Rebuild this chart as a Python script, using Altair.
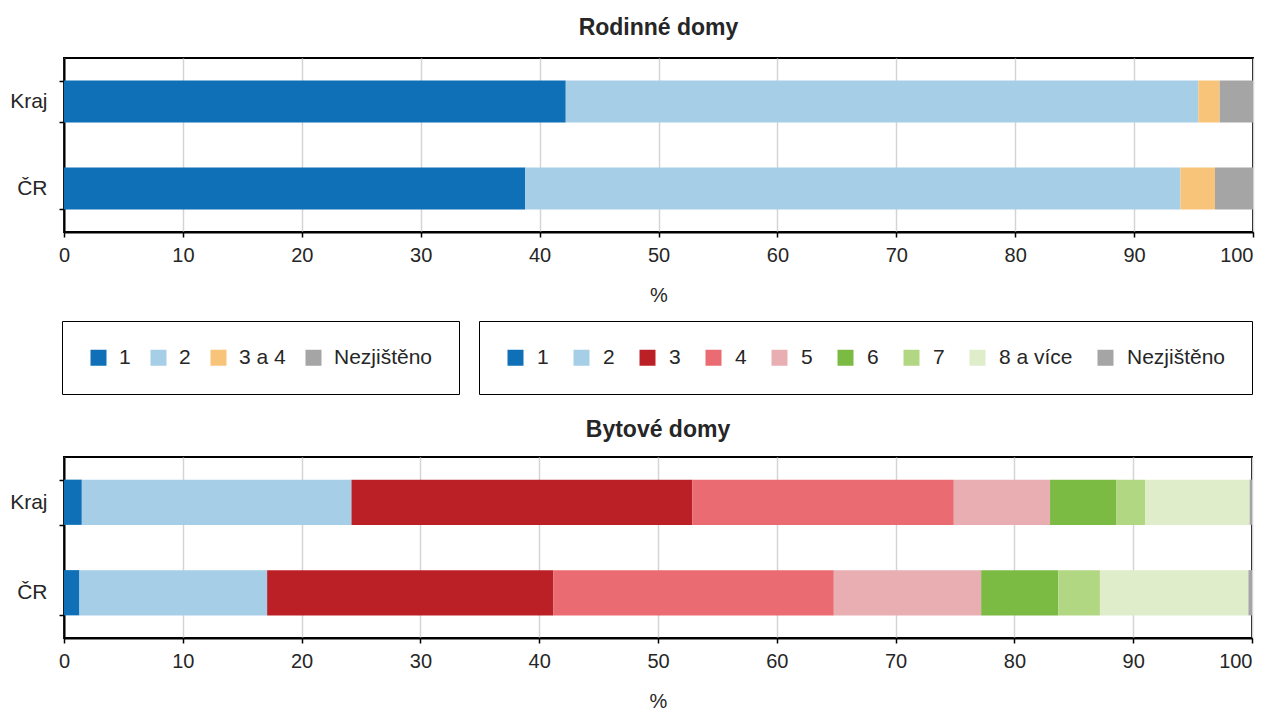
import altair as alt
import pandas as pd

FONT = "Liberation Sans"
TXT = "#262626"

uzemi = ["Kraj", "ČR"]

# Rodinné domy
rd_kategorie = ["1", "2", "3 a 4", "Nezjištěno"]
rd_kraj = [42.2, 53.2, 1.8, 2.8]
rd_cr = [38.8, 55.1, 2.9, 3.2]
rd_barvy = ["#0F70B7", "#A6CEE7", "#F7C47A", "#A5A5A5"]

# Bytové domy
bd_kategorie = ["1", "2", "3", "4", "5", "6", "7", "8 a více", "Nezjištěno"]
bd_kraj = [1.5, 22.7, 28.7, 22.0, 8.1, 5.6, 2.4, 8.8, 0.2]
bd_cr = [1.3, 15.8, 24.1, 23.6, 12.4, 6.5, 3.5, 12.5, 0.3]
bd_barvy = ["#0F70B7", "#A6CEE7", "#BC2027", "#EB6B72", "#E8AEB2",
            "#7CBB43", "#B2D783", "#DFEDCB", "#A5A5A5"]

x_ticks = list(range(0, 101, 10))


def build(kats, kraj, cr):
    rows = []
    for u, vals in zip(uzemi, [kraj, cr]):
        for i, (k, v) in enumerate(zip(kats, vals)):
            rows.append({"uzemi": u, "kategorie": k, "podil": v, "poradi": i})
    return pd.DataFrame(rows)


rd_df = build(rd_kategorie, rd_kraj, rd_cr)
bd_df = build(bd_kategorie, bd_kraj, bd_cr)


def x_enc():
    return alt.X(
        "podil:Q", stack="zero",
        scale=alt.Scale(domain=[0, 100], nice=False),
        axis=alt.Axis(values=x_ticks, title="%", labelPadding=8, titlePadding=20,
                      labelFlush=False,
                      labelAlign={"expr": "datum.value == 100 ? 'right' : 'center'"}),
    )


def y_enc(p):
    return alt.Y(
        "uzemi:N", sort=uzemi, title=None,
        scale=alt.Scale(paddingInner=p, paddingOuter=p / 2),
        axis=alt.Axis(tickBand="extent", grid=False, labelPadding=12, labelFontSize=21),
    )


def legend(x, y, off, pad, opacity_fix=False):
    kw = dict(
        orient="none", legendX=x, legendY=y, direction="horizontal", title=None,
        strokeColor="black", fillColor="white", padding=26,
        symbolType="square", symbolSize=256, symbolStrokeWidth=0,
        labelFontSize=21, labelFont=FONT, labelColor=TXT,
        labelOffset=off, columnPadding=pad,
    )
    if opacity_fix:
        kw["symbolOpacity"] = 1
    return alt.Legend(**kw)


top_bars = alt.Chart(rd_df).mark_bar().encode(
    x=x_enc(),
    y=y_enc(0.52),
    color=alt.Color("kategorie:N", scale=alt.Scale(domain=rd_kategorie, range=rd_barvy),
                    legend=legend(-2, 263, 10, 17)),
    order=alt.Order("poradi:Q"),
)

legend_dummy = alt.Chart(bd_df).mark_bar(opacity=0).encode(
    x=x_enc(),
    y=y_enc(0.52),
    color=alt.Color("kategorie:N", scale=alt.Scale(domain=bd_kategorie, range=bd_barvy),
                    legend=legend(415, 263, 11, 22, True)),
    order=alt.Order("poradi:Q"),
)

top = alt.layer(top_bars, legend_dummy).resolve_scale(color="independent").properties(
    width=1189, height=174,
    title=alt.TitleParams("Rodinné domy", fontSize=23, fontWeight="bold", font=FONT,
                          color=TXT, frame="group", anchor="middle", offset=7),
)

bottom = alt.Chart(bd_df).mark_bar().encode(
    x=x_enc(),
    y=y_enc(0.5),
    color=alt.Color("kategorie:N", scale=alt.Scale(domain=bd_kategorie, range=bd_barvy),
                    legend=None),
    order=alt.Order("poradi:Q"),
).properties(
    width=1188, height=181,
    title=alt.TitleParams("Bytové domy", fontSize=23, fontWeight="bold", font=FONT,
                          color=TXT, frame="group", anchor="middle", offset=4),
)

chart = alt.vconcat(top, bottom, spacing=22).resolve_scale(
    color="independent"
).properties(
    padding={"left": 0, "top": 8, "right": 2, "bottom": 0}
).configure_view(
    stroke="black", strokeWidth=2
).configure_axis(
    domainColor="black", domainWidth=2, tickColor="black", tickWidth=1.5, tickSize=5,
    gridColor="#D4D4D4", gridWidth=1.5,
    labelFont=FONT, labelFontSize=20, labelColor=TXT,
    titleFont=FONT, titleFontSize=20, titleFontWeight="normal", titleColor=TXT,
)

chart.save("out.html", embed_options={"renderer": "svg", "actions": False})
